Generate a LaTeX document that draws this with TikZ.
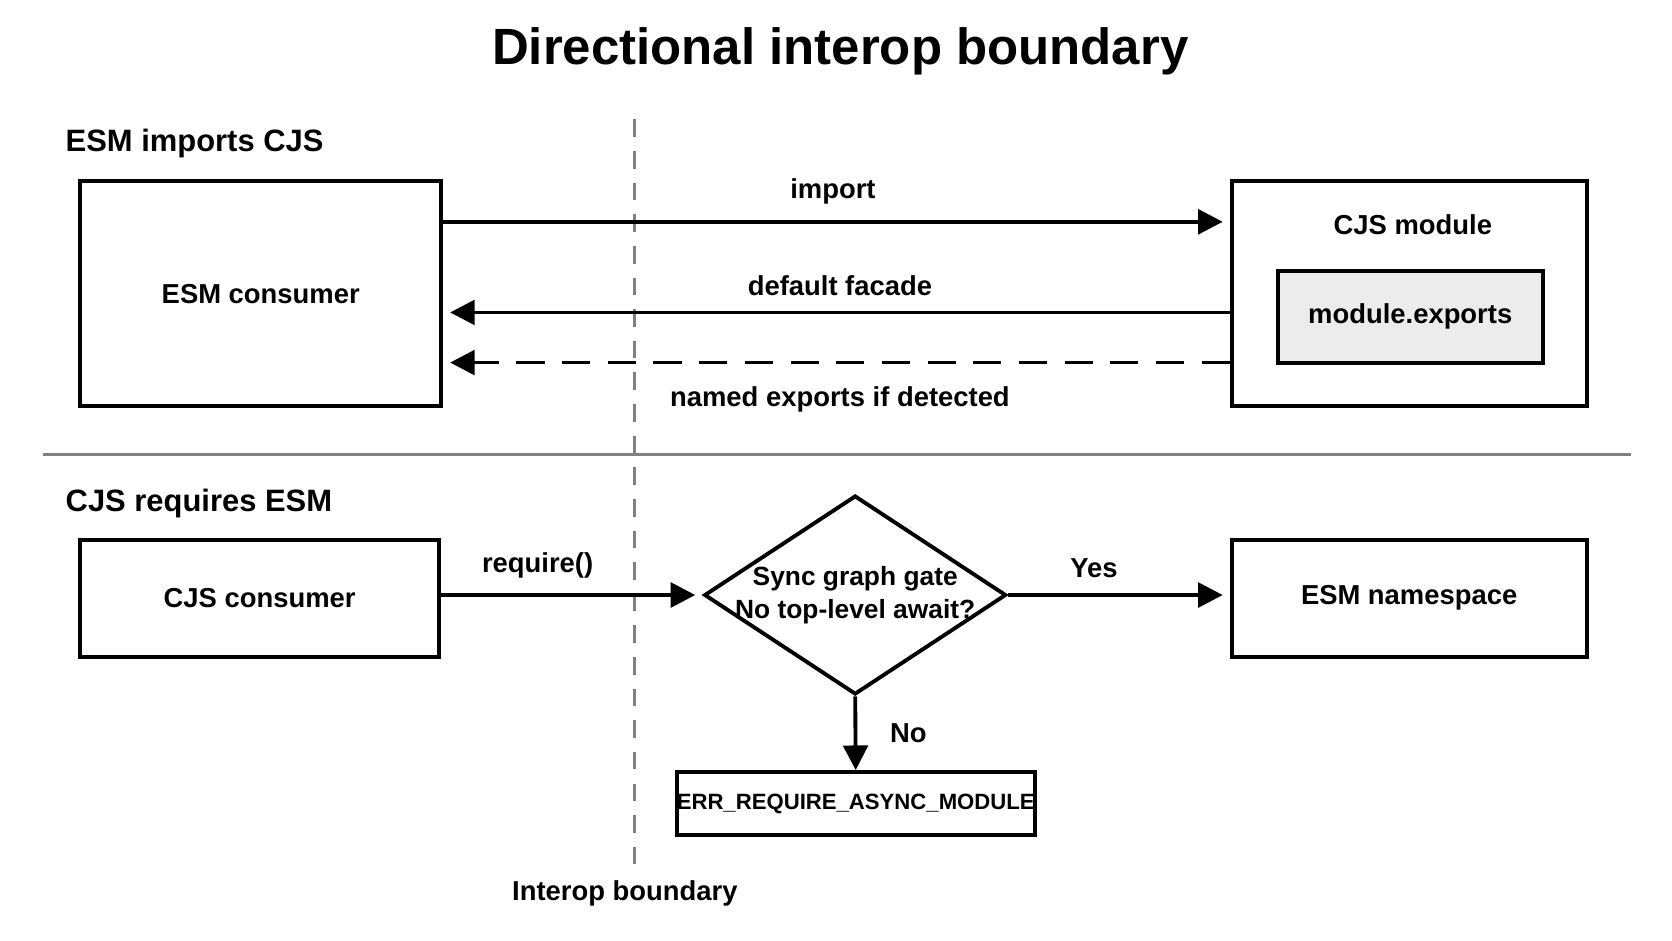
\documentclass[tikz,border=0pt]{standalone}
\usepackage{fontspec}
\setmainfont{Liberation Sans}
\usetikzlibrary{positioning, arrows.meta, shapes.geometric}

\begin{document}
\begin{tikzpicture}[x=0.01066cm, y=-0.01066cm, font=\bfseries\fontsize{7.8}{9.5}\selectfont, >={Triangle[length=7pt,width=7pt]}]
        \tikzset{
            % Define style for boxes
            kasten/.style={
                    rectangle,
                    draw=black, line width=1.1pt,
                    inner sep=0pt},
            % Define arrow style
            pfeil/.style={
                    ->,
                    line width=1.1pt},
        }
        \useasboundingbox (0,0) rectangle (1568,882);
        % Title and section headings
        \node (title) at (788,48) {\fontsize{14.5}{17}\selectfont Directional interop boundary};
        \node[anchor=west] (head1) at (50,135) {\fontsize{8.8}{11}\selectfont ESM imports CJS};
        \node[anchor=west] (head2) at (50,472) {\fontsize{8.8}{11}\selectfont CJS requires ESM};

        % Boundary line and separator
        \coordinate (btop) at (595,112);
        \coordinate (bbot) at (595,810);
        \draw[gray, line width=0.8pt, dash pattern=on 5pt off 4pt] (btop) -- (bbot);
        \node (blabel) at (586,838) {Interop boundary};
        \coordinate (sepl) at (40,426);
        \coordinate (sepr) at (1530,426);
        \draw[gray, line width=0.8pt] (sepl) -- (sepr);

        % Upper part
        \node[kasten, minimum width=3.61cm, minimum height=2.25cm] (esmc) at (244.5,275.5) {ESM consumer};
        \node[kasten, minimum width=3.55cm, minimum height=2.25cm] (cjsm) at (1321.5,275.5) {};
        \node (cjsl) at (1325,211) {CJS module};
        \node[kasten, fill=gray!15, minimum width=2.65cm, minimum height=0.92cm] (mexp) at (1322.5,297) {module.exports};

        \draw[pfeil] (esmc.east |- 0,208) -- node[above=1pt] {import} ([xshift=-2pt]cjsm.west |- 0,208);
        \draw[pfeil] (cjsm.west |- 0,293) -- node[above=1pt] {default facade} ([xshift=2pt]esmc.east |- 0,293);
        \draw[pfeil, dash pattern=on 8pt off 5pt] (cjsm.west |- 0,340) -- node[below=3pt] {named exports if detected} ([xshift=2pt]esmc.east |- 0,340);

        % Lower part
        \node[kasten, minimum width=3.59cm, minimum height=1.17cm] (cjsc) at (243.5,561) {CJS consumer};
        \node[kasten, minimum width=3.55cm, minimum height=1.17cm] (esmn) at (1321.5,561) {ESM namespace};
        \node[kasten, diamond, minimum width=3.02cm, minimum height=1.99cm] (gate) at (802,558) {};
        \node[align=center, font=\bfseries\fontsize{7.5}{9.5}\selectfont] (gatel) at (gate) {Sync graph gate\\No top-level await?};
        \node[kasten, minimum width=3.46cm, minimum height=0.63cm, font=\bfseries\fontsize{6.3}{8}\selectfont] (err) at (802.5,753.5) {ERR\_REQUIRE\_ASYNC\_MODULE};

        \draw[pfeil] (cjsc.east |- gate) -- node[above=1pt, pos=0.38] {require()} ([xshift=-2pt]gate.west);
        \draw[pfeil] (gate.east) -- node[above=1pt, pos=0.4] {Yes} ([xshift=-2pt]esmn.west |- gate);
        \draw[pfeil] (gate.south) -- node[right=6pt] {No} (err.north);
\end{tikzpicture}
\end{document}
